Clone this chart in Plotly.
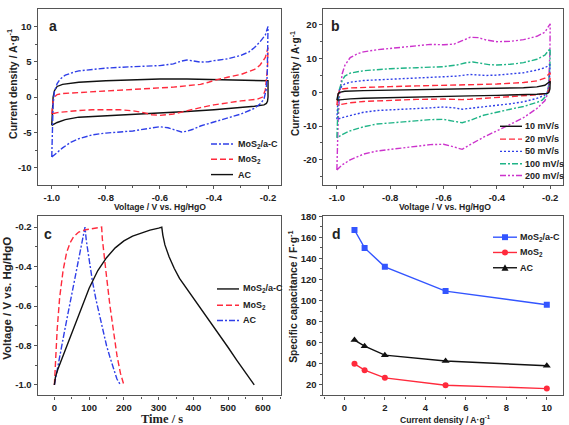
import plotly.graph_objects as go

W, H = 569, 425

# ---------------- Panel a : CV of three electrodes ----------------
a_mosc_v_up = [-1.0, -0.998, -0.995, -0.99, -0.98, -0.97, -0.95, -0.92, -0.9, -0.85, -0.8, -0.7, -0.6, -0.55,
               -0.52, -0.5, -0.48, -0.45, -0.42, -0.4, -0.35, -0.3, -0.27, -0.25, -0.23, -0.21, -0.2]
a_mosc_i_up = [-8.5, -4.0, -1.0, 0.8, 1.9, 2.5, 3.1, 3.5, 3.7, 3.9, 4.1, 4.3, 4.45, 4.7,
               5.1, 5.25, 5.1, 4.95, 5.0, 5.15, 5.4, 5.9, 6.4, 7.0, 7.8, 8.8, 10.0]
a_mosc_v_dn = [-0.2, -0.201, -0.203, -0.207, -0.215, -0.23, -0.25, -0.3, -0.35, -0.4, -0.45, -0.48, -0.5, -0.52,
               -0.54, -0.57, -0.6, -0.65, -0.7, -0.8, -0.85, -0.9, -0.93, -0.96, -0.98, -1.0]
a_mosc_i_dn = [10.0, 6.0, 3.0, 1.0, -0.3, -1.0, -1.6, -2.4, -3.0, -3.5, -4.1, -4.6, -4.85, -4.95,
               -4.7, -4.35, -4.2, -4.5, -4.8, -5.1, -5.35, -5.9, -6.4, -7.2, -7.8, -8.5]

a_mos_v_up = [-1.0, -0.998, -0.995, -0.99, -0.98, -0.96, -0.9, -0.8, -0.7, -0.6, -0.55, -0.5, -0.45, -0.42,
              -0.4, -0.35, -0.3, -0.25, -0.23, -0.21, -0.2]
a_mos_i_up = [-2.4, -1.5, -0.5, 0.0, 0.35, 0.5, 0.65, 0.85, 1.05, 1.3, 1.4, 1.55, 1.8, 2.1,
              2.35, 2.8, 3.2, 3.9, 4.5, 5.6, 7.0]
a_mos_v_dn = [-0.2, -0.202, -0.206, -0.21, -0.22, -0.24, -0.3, -0.35, -0.4, -0.45, -0.5, -0.55, -0.6, -0.63,
              -0.66, -0.7, -0.75, -0.8, -0.85, -0.9, -0.95, -0.98, -1.0]
a_mos_i_dn = [7.0, 4.0, 2.0, 1.0, 0.0, -0.3, -0.55, -0.8, -1.1, -1.5, -1.95, -2.4, -2.6, -2.5,
              -2.2, -1.95, -1.8, -1.75, -1.8, -1.9, -2.05, -2.2, -2.4]

a_ac_v_up = [-1.0, -0.999, -0.997, -0.995, -0.99, -0.98, -0.96, -0.93, -0.9, -0.8, -0.7, -0.6, -0.5, -0.4,
             -0.3, -0.25, -0.2]
a_ac_i_up = [-4.0, -3.0, -1.5, 0.0, 0.9, 1.5, 1.8, 2.0, 2.1, 2.3, 2.45, 2.55, 2.55, 2.45,
             2.35, 2.3, 2.3]
a_ac_v_dn = [-0.2, -0.2, -0.202, -0.206, -0.215, -0.25, -0.3, -0.4, -0.5, -0.6, -0.7, -0.8, -0.9, -0.95,
             -0.98, -1.0]
a_ac_i_dn = [2.3, 0.0, -0.6, -0.9, -1.1, -1.3, -1.5, -1.8, -2.05, -2.25, -2.45, -2.6, -2.85, -3.2,
             -3.6, -4.0]

# ---------------- Panel b : CV of MoS2/a-C at scan rates ----------------
b_10_v_up = [-1.0, -0.998, -0.995, -0.99, -0.97, -0.9, -0.8, -0.7, -0.6, -0.5, -0.4, -0.3, -0.25, -0.22, -0.2]
b_10_i_up = [-2.3, -1.2, -0.4, 0.0, 0.3, 0.5, 0.65, 0.8, 0.9, 1.0, 1.15, 1.35, 1.6, 2.1, 3.3]
b_10_v_dn = [-0.2, -0.201, -0.205, -0.21, -0.25, -0.3, -0.4, -0.5, -0.6, -0.7, -0.8, -0.9, -0.95, -0.98, -1.0]
b_10_i_dn = [3.3, 1.0, 0.0, -0.3, -0.55, -0.7, -0.9, -1.05, -1.2, -1.3, -1.5, -1.75, -1.95, -2.1, -2.3]

b_20_v_up = [-1.0, -0.998, -0.995, -0.99, -0.98, -0.95, -0.9, -0.8, -0.7, -0.6, -0.5, -0.4, -0.3, -0.25, -0.22, -0.2]
b_20_i_up = [-3.8, -2.0, -0.5, 0.5, 1.0, 1.3, 1.5, 1.7, 1.9, 2.05, 2.3, 2.45, 2.9, 3.4, 4.2, 5.8]
b_20_v_dn = [-0.2, -0.201, -0.204, -0.21, -0.22, -0.25, -0.3, -0.4, -0.45, -0.5, -0.53, -0.56, -0.6, -0.7,
             -0.8, -0.9, -0.95, -0.98, -1.0]
b_20_i_dn = [5.8, 3.0, 1.0, 0.0, -0.4, -0.75, -1.05, -1.5, -1.8, -2.05, -2.15, -2.05, -2.0, -2.1,
             -2.3, -2.7, -3.1, -3.4, -3.8]

b_50_v_up = [-1.0, -0.998, -0.995, -0.99, -0.98, -0.97, -0.95, -0.9, -0.8, -0.7, -0.6, -0.55, -0.5, -0.47,
             -0.44, -0.4, -0.35, -0.3, -0.25, -0.22, -0.2]
b_50_i_up = [-8.0, -4.0, -1.0, 0.8, 1.9, 2.5, 3.0, 3.5, 3.9, 4.2, 4.5, 4.8, 5.3, 5.2,
             5.0, 5.1, 5.4, 5.8, 6.6, 7.3, 8.2]
b_50_v_dn = [-0.2, -0.201, -0.204, -0.21, -0.22, -0.25, -0.3, -0.35, -0.4, -0.45, -0.5, -0.53, -0.56, -0.6,
             -0.65, -0.7, -0.8, -0.85, -0.9, -0.95, -0.98, -1.0]
b_50_i_dn = [8.2, 5.0, 2.0, 0.2, -0.8, -1.8, -2.8, -3.4, -3.9, -4.4, -4.85, -5.0, -4.6, -4.35,
             -4.6, -4.8, -5.1, -5.4, -5.9, -6.8, -7.5, -8.0]

b_100_v_up = [-1.0, -0.998, -0.995, -0.99, -0.98, -0.97, -0.95, -0.9, -0.85, -0.8, -0.7, -0.6, -0.55, -0.52,
              -0.49, -0.46, -0.43, -0.4, -0.35, -0.3, -0.25, -0.22, -0.2]
b_100_i_up = [-13.5, -8.0, -3.0, 1.0, 3.5, 4.8, 5.7, 6.4, 6.8, 7.0, 7.3, 7.6, 8.1, 8.7,
              9.0, 8.6, 8.2, 8.1, 8.3, 8.8, 9.8, 11.0, 13.0]
b_100_v_dn = [-0.2, -0.201, -0.203, -0.207, -0.215, -0.23, -0.25, -0.3, -0.35, -0.4, -0.45, -0.5, -0.53, -0.56,
              -0.6, -0.65, -0.7, -0.8, -0.85, -0.9, -0.95, -0.98, -1.0]
b_100_i_dn = [13.0, 8.0, 4.0, 1.0, -1.0, -2.3, -3.0, -4.2, -5.0, -5.8, -6.8, -8.3, -9.0, -8.6,
              -8.0, -8.1, -8.4, -8.9, -9.4, -10.2, -11.4, -12.5, -13.5]

b_200_v_up = [-1.0, -0.998, -0.995, -0.99, -0.985, -0.98, -0.97, -0.95, -0.92, -0.9, -0.85, -0.8, -0.75, -0.7,
              -0.65, -0.6, -0.56, -0.53, -0.5, -0.47, -0.44, -0.4, -0.35, -0.3, -0.25, -0.22, -0.2]
b_200_i_up = [-23.0, -15.0, -8.0, -1.0, 3.0, 5.5, 8.0, 10.3, 11.5, 12.0, 12.6, 13.0, 13.4, 13.8,
              14.2, 14.1, 14.3, 15.3, 16.3, 16.2, 15.5, 15.0, 15.1, 15.6, 16.6, 17.8, 20.3]
b_200_v_dn = [-0.2, -0.201, -0.203, -0.206, -0.21, -0.22, -0.25, -0.3, -0.35, -0.4, -0.45, -0.5, -0.53, -0.56,
              -0.6, -0.65, -0.7, -0.8, -0.85, -0.9, -0.95, -0.98, -1.0]
b_200_i_dn = [20.3, 12.0, 6.0, 2.0, -0.5, -2.5, -4.8, -7.5, -9.5, -11.3, -13.3, -15.5, -16.9, -16.2,
              -15.4, -15.5, -16.0, -16.8, -17.4, -18.3, -20.0, -21.5, -23.0]

# ---------------- Panel c : galvanostatic charge/discharge ----------------
c_mosc_t = [0, 3, 10, 25, 50, 75, 100, 125, 150, 175, 200, 225, 250, 275, 300, 309,
            312, 318, 330, 345, 360, 380, 400, 425, 450, 475, 500, 525, 550, 575]
c_mosc_v = [-1.0, -0.96, -0.92, -0.85, -0.74, -0.62, -0.51, -0.42, -0.355, -0.305, -0.27, -0.245, -0.228, -0.215, -0.205, -0.2,
            -0.24, -0.29, -0.35, -0.41, -0.46, -0.51, -0.56, -0.62, -0.68, -0.745, -0.81, -0.875, -0.94, -1.0]
c_mos_t = [0, 3, 8, 15, 25, 35, 45, 55, 70, 90, 110, 136,
           138, 142, 150, 160, 170, 180, 190, 200]
c_mos_v = [-1.0, -0.88, -0.72, -0.56, -0.42, -0.33, -0.28, -0.25, -0.225, -0.213, -0.206, -0.2,
           -0.26, -0.33, -0.45, -0.6, -0.74, -0.85, -0.94, -1.0]
c_ac_t = [0, 10, 20, 30, 40, 50, 60, 70, 80, 88,
          92, 100, 110, 120, 130, 140, 150, 160, 170, 180, 190]
c_ac_v = [-1.0, -0.9, -0.81, -0.72, -0.63, -0.54, -0.45, -0.36, -0.27, -0.2,
          -0.27, -0.37, -0.48, -0.57, -0.65, -0.73, -0.8, -0.86, -0.92, -0.97, -1.0]

# ---------------- Panel d : specific capacitance ----------------
d_current = [0.5, 1, 2, 5, 10]
d_mosc_cap = [167, 150, 132, 109, 96]
d_mos_cap = [40, 34, 26.7, 19.7, 16.5]
d_ac_cap = [62.5, 56.7, 48.2, 42.6, 38.2]

# tick labels
v_ticks = [-1.0, -0.8, -0.6, -0.4, -0.2]
v_ticktext = ["-1.0", "-0.8", "-0.6", "-0.4", "-0.2"]
a_iticks = [-10, -5, 0, 5, 10]
a_itext = ["-10", "-5", "0", "5", "10"]
b_iticks = [-20, -10, 0, 10, 20]
b_itext = ["-20", "-10", "0", "10", "20"]
c_tticks = [0, 100, 200, 300, 400, 500, 600]
d_xticks = [0, 2, 4, 6, 8, 10]
d_yticks = [20, 40, 60, 80, 100, 120, 140, 160, 180]

# labels
a_names = ["MoS<sub>2</sub>/a-C", "MoS<sub>2</sub>", "AC"]
b_names = ["10 mV/s", "20 mV/s", "50 mV/s", "100 mV/s", "200 mV/s"]

BLUE = "#2f3fe8"
RED = "#ff2a3c"
BLACK = "#111111"
GREEN = "#1fb487"
MAGENTA = "#cc33cc"
DASHDOT = "6px,2px,2px,2px"
DASH = "6px,3px"
DOT = "2px,2px"
DASHDOTDOT = "6px,2px,2px,2px,2px,2px"

FONT = "Liberation Sans"
TXT = "#222222"
FRAME = "#555555"

fig = go.Figure()


def cv(vu, iu, vd, id_, name, color, dash, xa, ya):
    fig.add_trace(go.Scatter(x=vu + vd, y=iu + id_, mode="lines", name=name,
                             line=dict(color=color, width=1.4, dash=dash),
                             xaxis=xa, yaxis=ya, showlegend=False))


cv(a_ac_v_up, a_ac_i_up, a_ac_v_dn, a_ac_i_dn, "AC", BLACK, "solid", "x", "y")
cv(a_mos_v_up, a_mos_i_up, a_mos_v_dn, a_mos_i_dn, "MoS2", RED, DASH, "x", "y")
cv(a_mosc_v_up, a_mosc_i_up, a_mosc_v_dn, a_mosc_i_dn, "MoS2/a-C", BLUE, DASHDOT, "x", "y")

cv(b_200_v_up, b_200_i_up, b_200_v_dn, b_200_i_dn, "200 mV/s", MAGENTA, DASHDOTDOT, "x2", "y2")
cv(b_100_v_up, b_100_i_up, b_100_v_dn, b_100_i_dn, "100 mV/s", GREEN, DASHDOT, "x2", "y2")
cv(b_50_v_up, b_50_i_up, b_50_v_dn, b_50_i_dn, "50 mV/s", BLUE, DOT, "x2", "y2")
cv(b_20_v_up, b_20_i_up, b_20_v_dn, b_20_i_dn, "20 mV/s", RED, DASH, "x2", "y2")
cv(b_10_v_up, b_10_i_up, b_10_v_dn, b_10_i_dn, "10 mV/s", BLACK, "solid", "x2", "y2")

fig.add_trace(go.Scatter(x=c_ac_t, y=c_ac_v, mode="lines", name="AC",
                         line=dict(color=BLUE, width=1.4, dash=DASHDOT), xaxis="x3", yaxis="y3", showlegend=False))
fig.add_trace(go.Scatter(x=c_mos_t, y=c_mos_v, mode="lines", name="MoS2",
                         line=dict(color=RED, width=1.4, dash=DASH), xaxis="x3", yaxis="y3", showlegend=False))
fig.add_trace(go.Scatter(x=c_mosc_t, y=c_mosc_v, mode="lines", name="MoS2/a-C",
                         line=dict(color=BLACK, width=1.4), xaxis="x3", yaxis="y3", showlegend=False))

fig.add_trace(go.Scatter(x=d_current, y=d_mosc_cap, mode="lines+markers", name="MoS2/a-C",
                         line=dict(color="#3355ff", width=1.4), marker=dict(symbol="square", size=6, color="#3355ff"),
                         xaxis="x4", yaxis="y4", showlegend=False))
fig.add_trace(go.Scatter(x=d_current, y=d_mos_cap, mode="lines+markers", name="MoS2",
                         line=dict(color=RED, width=1.4), marker=dict(symbol="circle", size=6, color=RED),
                         xaxis="x4", yaxis="y4", showlegend=False))
fig.add_trace(go.Scatter(x=d_current, y=d_ac_cap, mode="lines+markers", name="AC",
                         line=dict(color=BLACK, width=1.4), marker=dict(symbol="triangle-up", size=7, color=BLACK),
                         xaxis="x4", yaxis="y4", showlegend=False))


def px(x):
    return x / W


def py(y):
    return 1 - y / H


def axis(dom, rng, tickvals, ticktext, minor_dtick, minor_tick0, anchor):
    return dict(domain=dom, range=rng, tickmode="array", tickvals=tickvals, ticktext=ticktext,
                ticks="outside", ticklen=3, tickwidth=1, tickcolor=FRAME,
                showline=True, linecolor=FRAME, linewidth=1.3, mirror=True,
                showgrid=False, zeroline=False, anchor=anchor,
                tickfont=dict(family=FONT, size=9.5, color=TXT, weight="bold"),
                minor=dict(ticks="outside", ticklen=2, tickcolor=FRAME, tickmode="linear",
                           tick0=minor_tick0, dtick=minor_dtick, showgrid=False))


xa_top = [px(37.7), px(281)]
xb_dom = [px(323), px(563)]
y_top = [py(181.7), py(3)]
y_bot = [py(395), py(213.3)]

fig.update_layout(
    width=W, height=H, margin=dict(l=0, r=0, t=0, b=0),
    paper_bgcolor="white", plot_bgcolor="white", showlegend=False,
    xaxis=axis(xa_top, [-1.052, -0.152], v_ticks, v_ticktext, 0.1, -1.0, "y"),
    yaxis=axis(y_top, [-12.47, 12.47], a_iticks, a_itext, 2.5, 0, "x"),
    xaxis2=axis(xb_dom, [-1.052, -0.152], v_ticks, v_ticktext, 0.1, -1.0, "y2"),
    yaxis2=axis(y_top, [-27.5, 24.7], b_iticks, b_itext, 5, 0, "x2"),
    xaxis3=axis(xa_top, [-48, 652], c_tticks, [str(t) for t in c_tticks], 50, 0, "y3"),
    yaxis3=axis(y_bot, [-1.053, -0.145], v_ticks, v_ticktext, 0.1, -1.0, "x3"),
    xaxis4=axis([px(322.7), px(563)], [-1.07, 10.8], d_xticks, [str(t) for t in d_xticks], 1, 0, "y4"),
    yaxis4=axis(y_bot, [10, 180], d_yticks, [str(t) for t in d_yticks], 10, 0, "x4"),
)

ann = []


def text(x, y, s, size=10, angle=0, family=FONT, xanchor="center"):
    ann.append(dict(x=px(x), y=py(y), xref="paper", yref="paper", text=s, showarrow=False,
                    textangle=angle, xanchor=xanchor, yanchor="middle",
                    font=dict(family=family, size=size, color=TXT, weight="bold")))


# panel letters
text(53, 20.5, "a", 14)
text(335, 20.5, "b", 14)
text(48, 231, "c", 14)
text(337, 231, "d", 14)

# axis titles
text(160, 204, "Voltage / V vs. Hg/HgO", 8.6)
text(445, 204, "Voltage / V vs. Hg/HgO", 8.6)
text(12, 79, "Current density / A·g<sup>-1</sup>", 10.5, angle=-90)
text(295, 79, "Current density / A·g<sup>-1</sup>", 10, angle=-90)
text(162, 419, "Time / s", 12.5, family="Liberation Serif")
text(7, 297, "Voltage / V vs. Hg/HgO", 11.5, angle=-90)
text(445, 419, "Current density / A·g<sup>-1</sup>", 8.6)
text(293, 295, "Specific capacitance / F·g<sup>-1</sup>", 10.3, angle=-90)

shapes = []


def key(x0, x1, y, color, dash):
    shapes.append(dict(type="line", xref="paper", yref="paper", x0=px(x0), x1=px(x1), y0=py(y), y1=py(y),
                       line=dict(color=color, width=1.4, dash=dash)))


LEG = 9
# legend a
for (nm, col, ds), yy in zip([(a_names[0], BLUE, DASHDOT), (a_names[1], RED, DASH), (a_names[2], BLACK, "solid")],
                             [140, 155.5, 171]):
    key(211, 233, yy, col, ds)
    text(236, yy, nm, LEG, xanchor="left")

# legend b
for (nm, col, ds), yy in zip([(b_names[0], BLACK, "solid"), (b_names[1], RED, DASH), (b_names[2], BLUE, DOT),
                              (b_names[3], GREEN, DASHDOT), (b_names[4], MAGENTA, DASHDOTDOT)],
                             [122, 135, 147.5, 160, 172]):
    key(500, 522, yy, col, ds)
    text(523, yy, nm, LEG, xanchor="left")

# legend c
for (nm, col, ds), yy in zip([(a_names[0], BLACK, "solid"), (a_names[1], RED, DASH), (a_names[2], BLUE, DASHDOT)],
                             [287, 303.5, 319]):
    key(217, 239, yy, col, ds)
    text(241, yy, nm, LEG, xanchor="left")

# legend d
for (nm, col), yy in zip([(a_names[0], "#3355ff"), (a_names[1], RED), (a_names[2], BLACK)], [234.5, 250, 265.5]):
    key(493, 517, yy, col, "solid")
    text(518, yy, nm, LEG, xanchor="left")
# legend d markers
shapes.append(dict(type="rect", xref="paper", yref="paper", x0=px(502), x1=px(508), y0=py(237.5), y1=py(231.5),
                   fillcolor="#3355ff", line=dict(width=0)))
shapes.append(dict(type="circle", xref="paper", yref="paper", x0=px(502), x1=px(508), y0=py(253), y1=py(247),
                   fillcolor=RED, line=dict(width=0)))
shapes.append(dict(type="path", xref="paper", yref="paper",
                   path=f"M {px(501.5)} {py(268.5)} L {px(508.5)} {py(268.5)} L {px(505)} {py(262)} Z",
                   fillcolor=BLACK, line=dict(width=0)))

fig.update_layout(annotations=ann, shapes=shapes)
fig.write_html("out.html", config={"displayModeBar": False},
               post_script="document.body.style.margin='0px';document.body.style.padding='0px';"
                           "document.body.style.overflow='hidden';")
